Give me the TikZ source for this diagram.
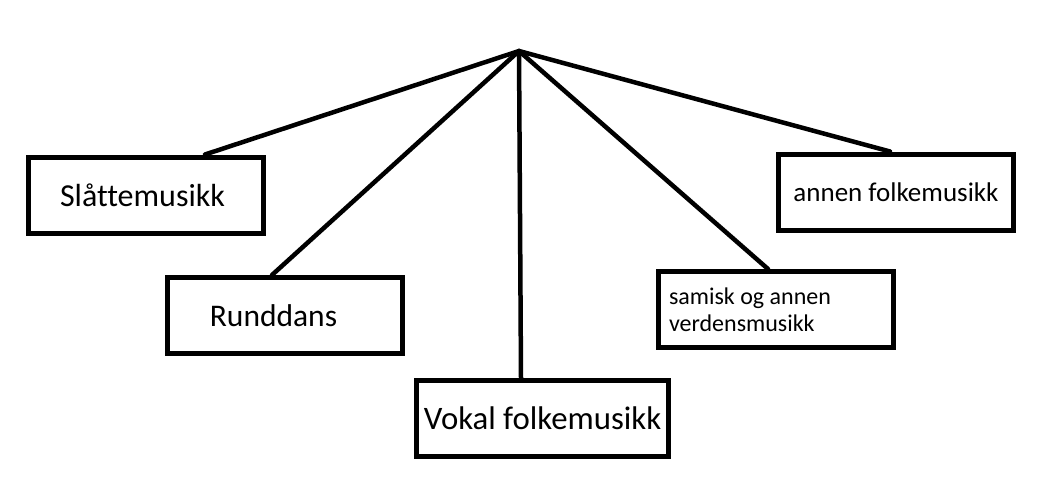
\documentclass[tikz,border=0pt]{standalone}
\usepackage{fontspec}
\setmainfont{Carlito}[Ligatures=NoCommon]
\usetikzlibrary{calc}
\begin{document}
\begin{tikzpicture}[x=1pt, y=-1pt,
  catbox/.style={draw, line width=5pt, inner sep=0pt, minimum width=235pt, minimum height=76pt},
  spoke/.style={line width=4.5pt, line cap=round}]
\useasboundingbox (0,0) rectangle (1039,496);
\coordinate (top) at (519,51);
\node[catbox, font=\fontsize{32}{38}\selectfont] (slatte) at (146,195) {Slåttemusikk\hspace*{7pt}};
\node[catbox, font=\fontsize{31.5}{38}\selectfont] (runddans) at (284.5,315.5) {Runddans\hspace*{22pt}};
\node[catbox, minimum width=252pt, font=\fontsize{32.8}{38}\selectfont] (vokal) at (542.5,418.5) {Vokal folkemusikk};
\node[catbox, text width=214pt, inner xsep=10.5pt, align=flush left, font=\fontsize{24}{27}\selectfont] (samisk) at (776,309.5) {samisk og annen\\verdensmusikk};
\node[catbox, font=\fontsize{27}{32}\selectfont] (annen) at (896,192) {annen folkemusikk};
\draw[spoke] (top) -- ($(slatte.north)+(59,0)$);
\draw[spoke] (top) -- ($(runddans.north)+(-12.5,0)$);
\draw[spoke] (top) -- ($(vokal.north)+(-21.5,0)$);
\draw[spoke] (top) -- ($(samisk.north)+(-8,0)$);
\draw[spoke] (top) -- ($(annen.north)+(-6,0)$);
\end{tikzpicture}
\end{document}
